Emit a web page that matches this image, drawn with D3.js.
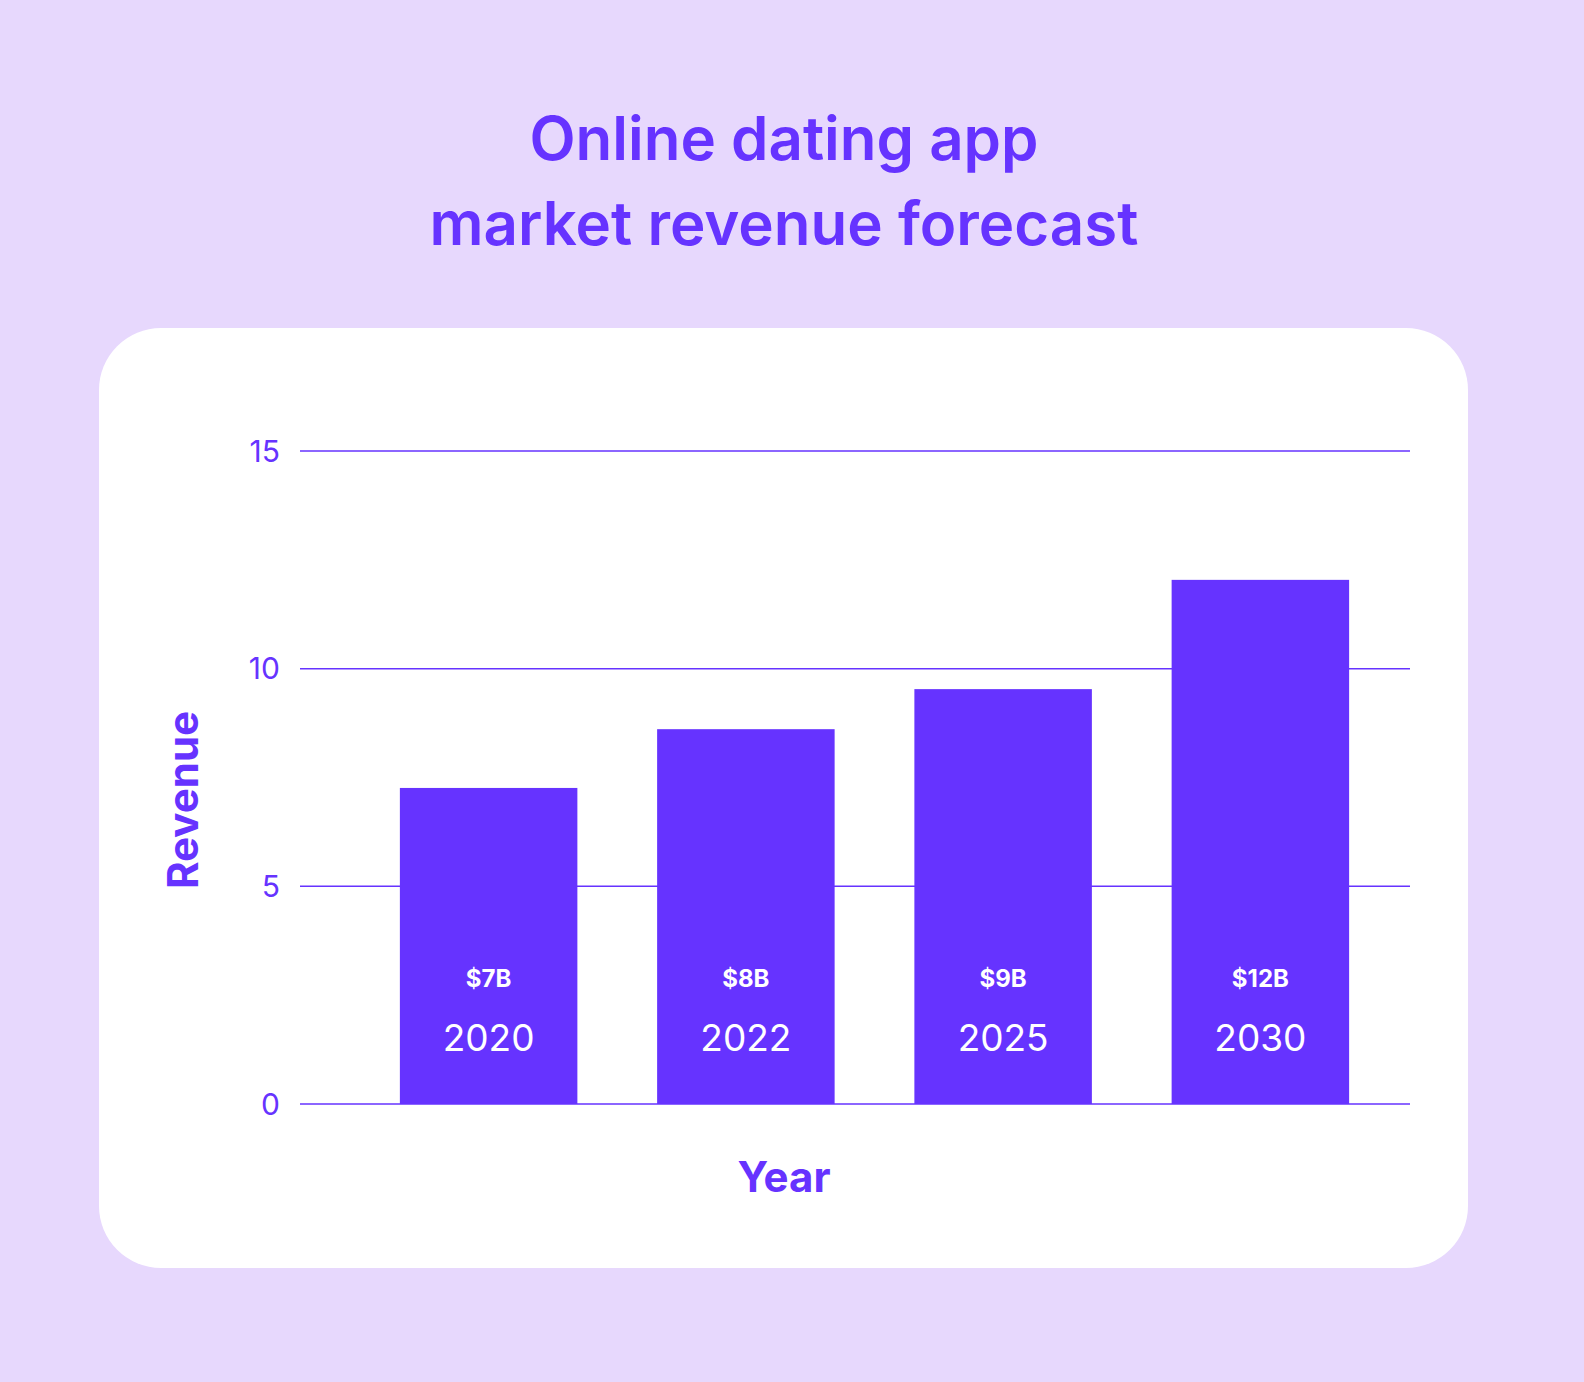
<!DOCTYPE html>
<html>
<head>
<meta charset="utf-8">
<script src="https://cdn.jsdelivr.net/npm/d3@7"></script>
<style>
  body { margin: 0; background: #e7d8fd; }
  svg { display: block; font-family: "Inter", "Noto Sans", sans-serif; }
</style>
</head>
<body>
<div id="chart"></div>
<script>
const years = ["2020", "2022", "2025", "2030"];
const revenue = [7.26, 8.61, 9.53, 12.04];
const valueLabels = ["$7B", "$8B", "$9B", "$12B"];
const yTicks = [0, 5, 10, 15];

const width = 1584, height = 1382;
const purple = "#6633ff";

const svg = d3.select("#chart").append("svg")
  .attr("width", width)
  .attr("height", height);

svg.append("rect").attr("width", width).attr("height", height).attr("fill", "#e7d8fd");

// title
svg.append("text")
  .attr("x", 784).attr("text-anchor", "middle")
  .attr("fill", purple).attr("font-size", 60).attr("font-weight", 600)
  .selectAll("tspan")
  .data(["Online dating app", "market revenue forecast"])
  .join("tspan")
  .attr("x", 784)
  .attr("y", (d, i) => 160 + i * 85)
  .text(d => d);

// card
svg.append("rect")
  .attr("x", 99).attr("y", 328).attr("width", 1369).attr("height", 940)
  .attr("rx", 62).attr("fill", "#fff");

const x = d3.scaleBand().domain(years).range([360, 1389])
  .paddingInner(0.31).paddingOuter(0.155);
const y = d3.scaleLinear().domain([0, 15]).range([1104, 451]);

// grid
svg.append("g").selectAll("line")
  .data(yTicks).join("line")
  .attr("x1", 300).attr("x2", 1410)
  .attr("y1", d => y(d)).attr("y2", d => y(d))
  .attr("stroke", purple).attr("stroke-width", 1.5);

svg.append("g").selectAll("text")
  .data(yTicks).join("text")
  .attr("x", 280).attr("y", d => y(d)).attr("dy", "0.36em")
  .attr("text-anchor", "end").attr("fill", purple)
  .attr("font-size", 30)
  .text(d => d);

// bars
const bars = svg.append("g").selectAll("g")
  .data(years.map((yr, i) => ({ yr, v: revenue[i], label: valueLabels[i] })))
  .join("g");

bars.append("rect")
  .attr("x", d => x(d.yr)).attr("width", x.bandwidth())
  .attr("y", d => y(d.v)).attr("height", d => y(0) - y(d.v))
  .attr("fill", purple);

bars.append("text")
  .attr("x", d => x(d.yr) + x.bandwidth() / 2).attr("y", 987)
  .attr("text-anchor", "middle").attr("fill", "#fff")
  .attr("font-size", 24).attr("font-weight", 700)
  .text(d => d.label);

bars.append("text")
  .attr("x", d => x(d.yr) + x.bandwidth() / 2).attr("y", 1051)
  .attr("text-anchor", "middle").attr("fill", "#fff")
  .attr("font-size", 37)
  .text(d => d.yr);

// axis titles
svg.append("text")
  .attr("x", 784).attr("y", 1192).attr("text-anchor", "middle")
  .attr("fill", purple).attr("font-size", 42).attr("font-weight", 700)
  .text("Year");

svg.append("text")
  .attr("transform", "translate(198,800) rotate(-90)")
  .attr("text-anchor", "middle")
  .attr("fill", purple).attr("font-size", 42).attr("font-weight", 700)
  .text("Revenue");
</script>
</body>
</html>
